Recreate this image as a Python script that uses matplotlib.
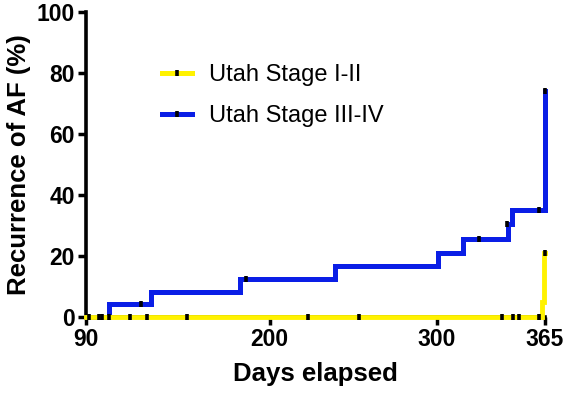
import numpy as np
import matplotlib
matplotlib.use("Agg")
import matplotlib.pyplot as plt
from matplotlib.lines import Line2D

plt.rcParams['font.family'] = ['Liberation Sans', 'DejaVu Sans']

# Stage III-IV (blue) step curve
blue_days = [90, 104, 129, 182, 239, 301, 316, 343, 345, 365]
blue_pct = [0, 4.2, 8.3, 12.5, 16.7, 21.1, 25.5, 30.4, 35.2, 74]
# censored marks
blue_cens_days = [104, 123, 186, 325.5, 342, 361.5, 365]
blue_cens_pct = [0, 4.2, 12.5, 25.5, 30.4, 35.2, 74]

# Stage I-II (yellow) step curve
yel_days = [90, 363, 364.6, 365]
yel_pct = [0, 5, 21, 21]
yel_cens_days = [92, 97.5, 99.5, 116.5, 126.5, 150.5, 223, 253.5, 339.5, 346, 349.5, 361.5, 365]
yel_cens_pct = [0, 0, 0, 0, 0, 0, 0, 0, 0, 0, 0, 0, 21]

xticks = [90, 200, 300, 365]
yticks = [0, 20, 40, 60, 80, 100]

BLUE = '#0A1EE6'
YEL = '#FFF200'

fig = plt.figure(figsize=(5.66, 3.96), dpi=100)
ax = fig.add_axes([86/566, 1-317/396, (545-86)/566, (317-12)/396])

ax.plot(blue_days, blue_pct, drawstyle='steps-post', color=BLUE, lw=3.6, clip_on=False, zorder=3,
        solid_joinstyle='miter')
ax.plot(yel_days, yel_pct, drawstyle='steps-post', color=YEL, lw=3.5, clip_on=False, zorder=4,
        solid_joinstyle='miter')
ax.plot(blue_cens_days, blue_cens_pct, ls='none', marker='|', ms=4.5, mew=2.6, color='k',
        clip_on=False, zorder=5)
ax.plot(yel_cens_days, yel_cens_pct, ls='none', marker='|', ms=4.5, mew=2.6, color='k',
        clip_on=False, zorder=5)

ax.set_xlim(90, 365)
ax.set_ylim(0, 100)
ax.set_xticks(xticks)
ax.set_yticks(yticks)
ax.tick_params(axis='both', width=2.5, length=6, labelsize=16.5, pad=2)
for lab in ax.get_xticklabels() + ax.get_yticklabels():
    lab.set_fontweight('bold')
ax.spines['top'].set_visible(False)
ax.spines['right'].set_visible(False)
ax.spines['left'].set_linewidth(2.6)
ax.spines['bottom'].set_linewidth(2.6)

ax.set_xlabel('Days elapsed', fontsize=18.5, fontweight='bold', labelpad=8)
ax.set_ylabel('Recurrence of AF (%)', fontsize=18.5, fontweight='bold', labelpad=4)

handles = [
    Line2D([], [], color=YEL, lw=3.6, marker='|', ms=4.5, mew=2.6, mec='k'),
    Line2D([], [], color=BLUE, lw=3.6, marker='|', ms=4.5, mew=2.6, mec='k'),
]
ax.legend(handles, ['Utah Stage I-II', 'Utah Stage III-IV'], loc='upper left',
          bbox_to_anchor=(141/566, 1-43/396), bbox_transform=fig.transFigure,
          frameon=False, fontsize=17, handlelength=1.25, handletextpad=0.75,
          labelspacing=0.8, numpoints=1)

fig.savefig('out.png', dpi=100)
